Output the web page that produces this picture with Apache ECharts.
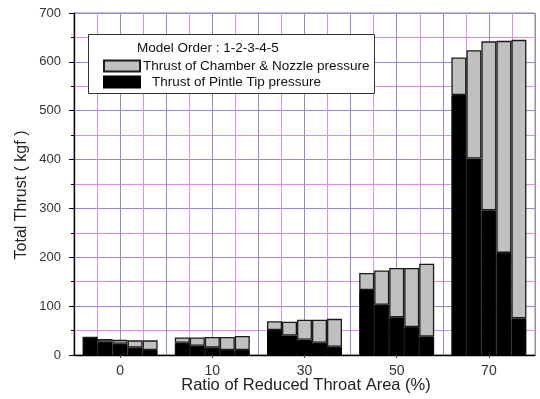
<!DOCTYPE html>
<html>
<head>
<meta charset="utf-8">
<script src="https://cdn.jsdelivr.net/npm/echarts@6/dist/echarts.min.js"></script>
<style>
  html, body { margin: 0; padding: 0; background: #fff; }
  #chart { width: 540px; height: 399px; }
</style>
</head>
<body>
<div id="chart"></div>
<script>
// Ratio of reduced throat area (%) groups
const categories = ['0', '10', '30', '50', '70'];

// Total thrust (kgf) for models 1..5 in each group
const total1 = [36, 36, 69, 168, 609];
const total2 = [33, 36, 68, 173, 624];
const total3 = [31, 37, 72, 178, 642];
const total4 = [30, 37, 72, 178, 643];
const total5 = [30, 39, 74, 187, 645];

// Thrust from pintle tip pressure (kgf) for models 1..5
const pintle1 = [36, 25, 51, 133, 532];
const pintle2 = [27, 19, 40, 103, 402];
const pintle3 = [23, 15, 31, 77, 296];
const pintle4 = [15, 10, 25, 57, 209];
const pintle5 = [10, 10, 17, 38, 75];

const yTicks = [0, 100, 200, 300, 400, 500, 600, 700];

const totals = [total1, total2, total3, total4, total5];
const pintles = [pintle1, pintle2, pintle3, pintle4, pintle5];

const NAME_CN = 'Thrust of Chamber & Nozzle pressure';
const NAME_PT = 'Thrust of Pintle Tip pressure';

const BLUE = '#8c8cd8';
const PINK = '#e58ae8';

const series = [];
pintles.forEach(function (p, i) {
  const t = totals[i];
  series.push({
    name: NAME_PT,
    type: 'bar',
    stack: 'model' + (i + 1),
    xAxisIndex: 0,
    barWidth: 15,
    barGap: '0%',
    data: p,
    itemStyle: { color: '#000', borderColor: '#000', borderWidth: 1 },
    emphasis: { disabled: true }
  });
  series.push({
    name: NAME_CN,
    type: 'bar',
    stack: 'model' + (i + 1),
    xAxisIndex: 0,
    barWidth: 15,
    barGap: '0%',
    data: t.map(function (v, k) { return v - p[k]; }),
    itemStyle: { color: '#c0c0c0', borderColor: '#1a1a1a', borderWidth: 1.3 },
    emphasis: { disabled: true }
  });
});

const chart = echarts.init(document.getElementById('chart'), null, { renderer: 'canvas' });
const FONT = '"Liberation Sans", Arial, sans-serif';

chart.setOption({
  animation: false,
  backgroundColor: '#fff',
  grid: {
    left: 74, right: 5, top: 13, bottom: 44,
    outerBoundsMode: 'none',
    show: true, borderColor: '#8a8a8a', borderWidth: 1
  },
  xAxis: [
    {
      type: 'category',
      data: categories,
      position: 'bottom',
      axisLine: { lineStyle: { color: '#000', width: 1.3 } },
      axisTick: { show: true, alignWithLabel: true, length: 3, lineStyle: { color: '#444' } },
      axisLabel: { fontFamily: FONT, fontSize: 14, color: '#333', margin: 9 },
      splitLine: { show: false }
    },
    {
      // quarter-band grid for the vertical lines
      type: 'value',
      min: 0, max: 20, interval: 2,
      position: 'bottom',
      axisLine: { show: false },
      axisTick: { show: false },
      axisLabel: { show: false },
      splitLine: { show: true, lineStyle: { color: BLUE, width: 1 } },
      minorTick: { show: false, splitNumber: 2 },
      minorSplitLine: { show: true, lineStyle: { color: PINK, width: 1 } }
    }
  ],
  yAxis: {
    type: 'value',
    min: yTicks[0],
    max: yTicks[yTicks.length - 1],
    interval: 100,
    axisLine: { show: true, lineStyle: { color: '#000', width: 1.3 } },
    axisTick: { show: true, length: 5, lineStyle: { color: '#000' } },
    minorTick: { show: true, splitNumber: 2, length: 3, lineStyle: { color: '#000' } },
    axisLabel: { fontFamily: FONT, fontSize: 13, color: '#333', margin: 13 },
    splitLine: { show: true, lineStyle: { color: BLUE, width: 1 } },
    minorSplitLine: { show: true, lineStyle: { color: PINK, width: 1 } }
  },
  legend: {
    orient: 'vertical',
    left: 103,
    top: 59,
    padding: 0,
    itemWidth: 36,
    itemHeight: 11,
    itemGap: 2,
    icon: 'rect',
    selectedMode: false,
    data: [NAME_CN, NAME_PT],
    formatter: function (name) {
      return name === NAME_PT ? '{i|' + name + '}' : name;
    },
    textStyle: {
      fontFamily: FONT, fontSize: 13.5, color: '#111', padding: [0, 0, 0, -2],
      rich: { i: { fontFamily: FONT, fontSize: 13.5, color: '#111', padding: [0, 0, 0, 9] } }
    },
    z: 10
  },
  graphic: [
    {
      // y-axis title
      type: 'text',
      x: 22, y: 195,
      rotation: Math.PI / 2,
      style: {
        text: 'Total Thrust ( kgf )', font: '16px ' + FONT, fill: '#222',
        align: 'center', verticalAlign: 'middle'
      },
      z: 6
    },
    {
      // x-axis title
      type: 'text',
      x: 306, y: 385,
      style: {
        text: 'Ratio of Reduced Throat Area (%)', font: '16.5px ' + FONT, fill: '#222',
        align: 'center', verticalAlign: 'middle'
      },
      z: 6
    },
    {
      type: 'rect',
      left: 88, top: 34,
      shape: { width: 286, height: 59 },
      style: { fill: '#fff', stroke: '#333', lineWidth: 1 },
      z: 5
    },
    {
      type: 'text',
      left: 137, top: 41,
      style: { text: 'Model Order : 1-2-3-4-5', font: '13.5px ' + FONT, fill: '#111' },
      z: 6
    }
  ],
  series: series
});
</script>
</body>
</html>
